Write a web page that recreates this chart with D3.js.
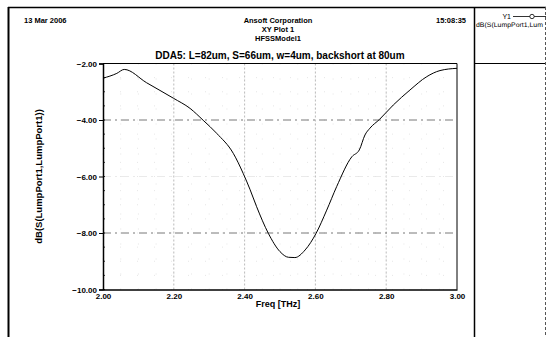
<!DOCTYPE html>
<html><head><meta charset="utf-8">
<script src="https://cdn.jsdelivr.net/npm/d3@7"></script>
<style>
html,body{margin:0;padding:0;background:#fff;}
svg{display:block;font-family:"Liberation Sans",Arial,sans-serif;}
</style></head>
<body>
<svg id="c" width="546" height="337"></svg>
<script>
const freq = [2.000,2.039,2.060,2.123,2.199,2.246,2.283,2.321,2.368,2.396,2.415,2.434,2.467,2.500,2.524,2.542,2.571,2.602,2.632,2.660,2.703,2.724,2.740,2.754,2.781,2.820,2.867,2.914,2.952,3.000];
const dbS = [-2.52,-2.35,-2.21,-2.68,-3.23,-3.59,-4.01,-4.47,-5.18,-5.89,-6.45,-7.07,-8.01,-8.66,-8.86,-8.87,-8.60,-8.01,-7.19,-6.36,-5.30,-5.06,-4.53,-4.29,-3.98,-3.47,-2.94,-2.47,-2.25,-2.17];
const xTicks = [2.0,2.2,2.4,2.6,2.8,3.0];
const yTicks = [-2,-4,-6,-8,-10];
const yMinor = d3.range(-10,-2,0.5);
const xMinor = d3.range(2.0,3.0,0.05);

const svg = d3.select("#c");
const L=103,R=457,T=63.5,B=289.5;
const x = d3.scaleLinear().domain([2,3]).range([L,R]);
const y = d3.scaleLinear().domain([-10,-2]).range([B,T]);

// frame
svg.append("line").attr("x1",8).attr("x2",546).attr("y1",7.5).attr("y2",7.5).attr("stroke","#000").attr("stroke-width",1.5);
svg.append("line").attr("x1",8.5).attr("x2",8.5).attr("y1",7).attr("y2",337).attr("stroke","#000").attr("stroke-width",2);
svg.append("line").attr("x1",474.5).attr("x2",474.5).attr("y1",7).attr("y2",337).attr("stroke","#000").attr("stroke-width",1.5);
svg.append("line").attr("x1",474).attr("x2",546).attr("y1",63.5).attr("y2",63.5).attr("stroke","#000").attr("stroke-width",1);

// header texts
const hdr = svg.append("g").attr("font-weight","bold").attr("font-size",7.5).attr("fill","#000");
hdr.append("text").attr("x",24).attr("y",23).text("13 Mar 2006");
hdr.append("text").attr("x",278).attr("y",23).attr("text-anchor","middle").text("Ansoft Corporation");
hdr.append("text").attr("x",278).attr("y",32).attr("text-anchor","middle").text("XY Plot 1");
hdr.append("text").attr("x",278).attr("y",41).attr("text-anchor","middle").text("HFSSModel1");
hdr.append("text").attr("x",436).attr("y",23).text("15:08:35");
svg.append("text").attr("x",280).attr("y",59).attr("text-anchor","middle").attr("font-weight","bold").attr("font-size",10).text("DDA5: L=82um, S=66um, w=4um, backshort at 80um");

// legend
svg.append("text").attr("x",511).attr("y",19).attr("text-anchor","end").attr("font-size",7).text("Y1");
svg.append("line").attr("x1",513).attr("x2",546).attr("y1",16.5).attr("y2",16.5).attr("stroke","#000").attr("stroke-width",0.8);
svg.append("circle").attr("cx",532).attr("cy",16.5).attr("r",2.2).attr("fill","#fff").attr("stroke","#000").attr("stroke-width",0.8);
svg.append("text").attr("x",476).attr("y",27).attr("font-size",6.6).attr("textLength",67).attr("lengthAdjust","spacingAndGlyphs").attr("fill","#000").style("text-rendering","geometricPrecision").text("dB(S(LumpPort1,Lum");
svg.append("line").attr("x1",545.5).attr("x2",545.5).attr("y1",7).attr("y2",337).attr("stroke","#555").attr("stroke-width",1).attr("stroke-dasharray","3,2");

// grid
const g = svg.append("g");
g.selectAll(".mx").data(xMinor).join("line").attr("x1",d=>x(d)).attr("x2",d=>x(d)).attr("y1",T).attr("y2",B)
 .attr("stroke","#ccc").attr("stroke-width",0.5).attr("stroke-dasharray","1,14");
g.selectAll(".my").data(yMinor).join("line").attr("x1",L).attr("x2",R).attr("y1",d=>y(d)).attr("y2",d=>y(d))
 .attr("stroke","#ccc").attr("stroke-width",0.5).attr("stroke-dasharray","1,16");
g.selectAll(".gx").data(xTicks.slice(1,-1)).join("line").attr("x1",d=>x(d)).attr("x2",d=>x(d)).attr("y1",T).attr("y2",B)
 .attr("stroke","#aaa").attr("stroke-width",0.8).attr("stroke-dasharray","2,2");
g.selectAll(".gy").data(yTicks.slice(1,-1)).join("line").attr("x1",L).attr("x2",R).attr("y1",d=>y(d)).attr("y2",d=>y(d))
 .attr("stroke",d=>d===-6?"#e4e4e4":"#555").attr("stroke-width",0.8).attr("stroke-dasharray","8,4,2,4");

// axes
const ax = d3.axisLeft(y).tickValues(yTicks).tickFormat(d3.format(".2f")).tickSize(4);
const ayG = svg.append("g").attr("transform",`translate(${L},0)`).call(ax);
const bx = d3.axisBottom(x).tickValues(xTicks).tickFormat(d3.format(".2f")).tickSize(0);
const bxG = svg.append("g").attr("transform",`translate(0,${B})`).call(bx);
[ayG,bxG].forEach(a=>{a.select(".domain").attr("stroke","#000").attr("stroke-width",1.5);
  a.selectAll("text").attr("font-family","Liberation Sans, Arial, sans-serif").attr("font-weight","bold").attr("font-size",8).attr("fill","#000");});
ayG.selectAll("text").attr("x",-6).attr("dy","0.32em");
bxG.selectAll("text").attr("dy","0.9em").attr("y",2);
svg.append("line").attr("x1",L).attr("x2",R).attr("y1",T).attr("y2",T).attr("stroke","#000").attr("stroke-width",1);
svg.append("line").attr("x1",R).attr("x2",R).attr("y1",T).attr("y2",B).attr("stroke","#000").attr("stroke-width",1);
// minor ticks on y axis
svg.selectAll(".ymt").data(yMinor).join("line").attr("x1",L).attr("x2",L+2).attr("y1",d=>y(d)).attr("y2",d=>y(d)).attr("stroke","#000").attr("stroke-width",0.8);

// axis labels
svg.append("text").attr("x",278).attr("y",307).attr("text-anchor","middle").attr("font-weight","bold").attr("font-size",9).text("Freq [THz]");
svg.append("text").attr("transform",`translate(42,${(T+B)/2}) rotate(-90)`).attr("text-anchor","middle").attr("font-weight","bold").attr("font-size",9.5).text("dB(S(LumpPort1,LumpPort1))");

// curve
const line = d3.line().x((d,i)=>x(freq[i])).y(d=>y(d)).curve(d3.curveMonotoneX);
svg.append("path").datum(dbS).attr("d",line).attr("fill","none").attr("stroke","#000").attr("stroke-width",1);
</script>
</body></html>
